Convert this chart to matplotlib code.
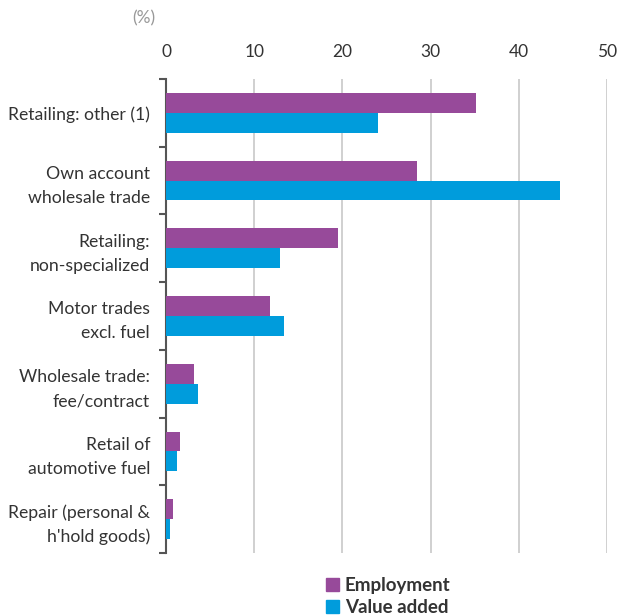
import matplotlib
matplotlib.use("Agg")
import matplotlib.pyplot as plt
from matplotlib.patches import Patch
import numpy as np

categories = ["Retailing: other (1)", "Own account\nwholesale trade", "Retailing:\nnon-specialized",
              "Motor trades\nexcl. fuel", "Wholesale trade:\nfee/contract", "Retail of\nautomotive fuel",
              "Repair (personal &\nh'hold goods)"]
employment = [35.1, 28.5, 19.5, 11.8, 3.2, 1.6, 0.8]
value_added = [24.0, 44.7, 12.9, 13.4, 3.6, 1.2, 0.4]
series_names = ["Employment", "Value added"]
xticks = [0, 10, 20, 30, 40, 50]

plt.rcParams['font.family'] = ['Lato', 'DejaVu Sans']

fig = plt.figure(figsize=(6.19, 6.15), dpi=100)
ax = fig.add_axes([166/619, 1-553/615, (607-166)/619, (553-79)/615])

purple = "#974A9A"
blue = "#009CDC"
h = 0.294
y = np.arange(len(categories))
ax.barh(y - h/2, employment, height=h, color=purple, zorder=3)
ax.barh(y + h/2, value_added, height=h, color=blue, zorder=3)

ax.set_xlim(0, 50)
ax.set_ylim(len(categories) - 0.5, -0.5)
ax.xaxis.tick_top()
ax.set_xticks(xticks)
ax.set_xticklabels([str(t) for t in xticks])
ax.tick_params(axis='x', length=0, pad=13.5, labelsize=12.5, labelcolor="#333333")
for t in xticks[1:]:
    ax.axvline(t, color="#c8c8c8", lw=1.2, zorder=1)

ax.set_yticks(y)
ax.set_yticklabels(categories, fontsize=12.7, color="#333333", linespacing=1.6)
ax.set_yticks(np.arange(len(categories) + 1) - 0.5, minor=True)
ax.tick_params(axis='y', which='major', length=0, pad=11.5)
ax.tick_params(axis='y', which='minor', length=5, width=1.5, color="#555555", direction='out')

for s in ['top', 'right', 'bottom']:
    ax.spines[s].set_visible(False)
ax.spines['left'].set_color("#555555")
ax.spines['left'].set_linewidth(1.5)

fig.text(144/619, 1-18/615, "(%)", fontsize=12.5, color="#999999", ha='center', va='center')

handles = [Patch(color=purple), Patch(color=blue)]
leg = fig.legend(handles, series_names, loc='upper left', bbox_to_anchor=(326/619, 1-577/615),
                 frameon=False, handlelength=0.7, handleheight=0.7, handletextpad=0.3,
                 labelspacing=0.25, borderpad=0, borderaxespad=0,
                 prop={'weight': 'bold', 'size': 13.5})
for t in leg.get_texts():
    t.set_color("#333333")

fig.savefig("out.png", dpi=100)
